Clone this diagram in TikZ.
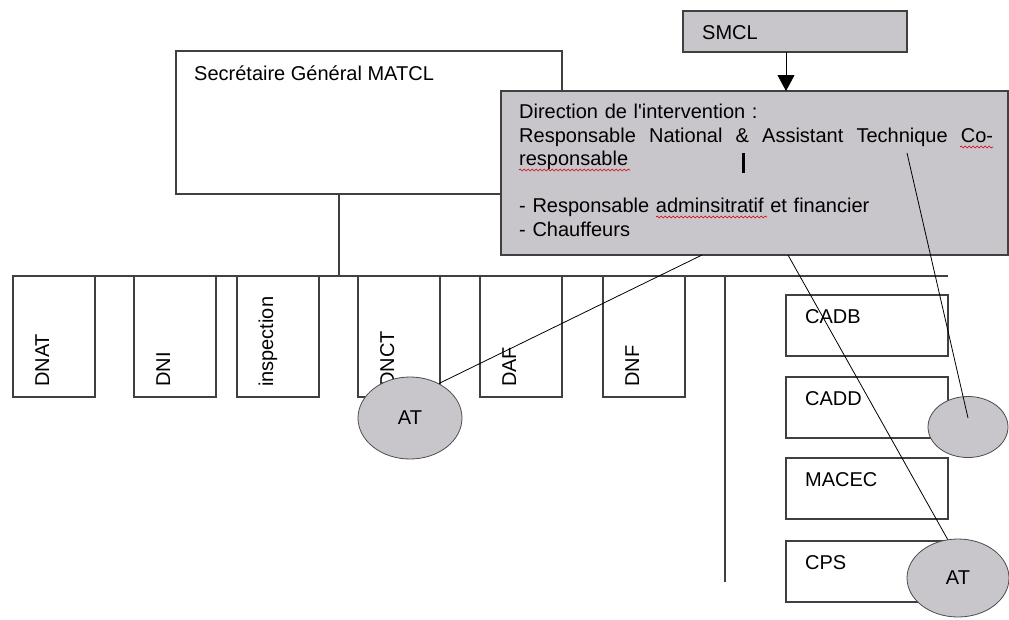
\documentclass[tikz,border=0pt]{standalone}
\usepackage{fontspec}
\setmainfont{Liberation Sans}
\usetikzlibrary{arrows.meta,positioning,shapes.geometric,decorations.pathmorphing}
\definecolor{boxgrey}{RGB}{200,197,203}

\begin{document}
\begin{tikzpicture}[
    x=1pt, y=-1pt,
    font=\fontsize{20}{23.5}\selectfont,
    >={Triangle[width=17pt,length=16pt]},
    box/.style={draw=black!75, line width=1.1pt, fill=white, anchor=north west, inner sep=0pt, outer sep=0pt},
    greybox/.style={box, fill=boxgrey},
    lbl/.style={inner sep=0pt, anchor=base west},
    vlbl/.style={lbl, rotate=90},
    oval/.style={ellipse, draw=black!70, line width=0.8pt, fill=boxgrey, inner sep=0pt},
    link/.style={draw=black, line width=0.8pt},
    spell/.style={draw=red!85!black, line width=0.6pt, decorate, decoration={snake, amplitude=1pt, segment length=4pt}}
]
\useasboundingbox (0,0) rectangle (1009,619);

% secretariat general
\node[box, minimum width=386pt, minimum height=143pt] (sg) at (176,51) {};
\node[lbl] (sg text) at (194,80) {Secr\'etaire G\'en\'eral MATCL};
\coordinate (bus) at (339,276);
\draw[box] (sg.south -| bus) -- (bus);

% directions nationales
\foreach \x/\name/\txt in {13/dnat/DNAT, 134/dni/DNI, 237/insp/inspection, 358/dnct/DNCT, 480/daf/DAF, 603/dnf/DNF} {
  \node[box, minimum width=82pt, minimum height=121pt] (\name) at (\x,276) {};
  \node[vlbl] (\name text) at ([shift={(36pt,10pt)}]\name.south west) {\txt};
}

% cellules
\foreach \y/\name/\txt in {295/cadb/CADB, 377/cadd/CADD, 458/macec/MACEC, 541/cps/CPS} {
  \node[box, minimum width=162pt, minimum height=61pt] (\name) at (786,\y) {};
  \node[lbl] (\name text) at ([shift={(19pt,-28pt)}]\name.north west) {\txt};
}
\draw[box] (dnat.north west) -- (dnat.north west -| cadb.north east);
\coordinate (spine top) at (725,276);
\coordinate (spine end) at (725,582);
\draw[box] (spine top) -- (spine end);

% direction de l'intervention
\node[greybox, minimum width=507pt, minimum height=164pt] (dir) at (501,91) {};
\node[inner sep=0pt, anchor=north west, text width=474pt, align=left] (dir text) at (519,104)
  {Direction de l\textquotesingle intervention :\\
   \leavevmode\hbox to 474pt{Responsable\hfill National\hfill\&\hfill Assistant\hfill Technique\hfill Co-}\\
   responsable\\[23.5pt]
   - Responsable adminsitratif et financier\\
   - Chauffeurs};
\draw[spell] (960,147) -- (993,147);
\draw[spell] (519,170) -- (630,170);
\draw[spell] (656,217) -- (767,217);
\draw[line width=3pt] (743,153) -- (743,173);

% SMCL
\node[greybox, minimum width=224pt, minimum height=41pt] (smcl) at (683,11) {};
\node[lbl] (smcl text) at (702,39) {SMCL};
\coordinate (smcl out) at (786,52);
\draw[link, ->] (smcl out) -- (smcl out |- dir.north);

% assistants techniques
\node[oval, minimum width=104pt, minimum height=82pt] (at dnct) at (410,418) {AT};
\node[oval, minimum width=80pt, minimum height=61pt] (at cadd) at (968,427) {};
\node[oval, minimum width=102pt, minimum height=78pt] (at cps) at (958,578) {AT};

\coordinate (dir out1) at (702,255);
\coordinate (dir out2) at (788,255);
\coordinate (dir out3) at (907,153);
\draw[link] (dir out1) -- (at dnct.50);
\draw[link] (dir out2) -- (at cps.105);
\draw[link] (dir out3) -- ([yshift=9pt]at cadd.center);
\end{tikzpicture}
\end{document}
